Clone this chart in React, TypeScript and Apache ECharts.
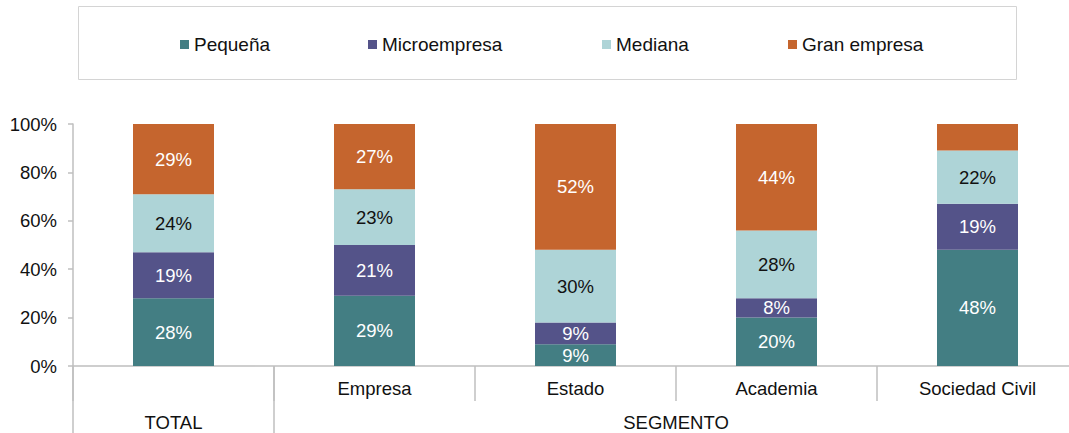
import React, { useEffect, useRef } from "react";
import * as echarts from "echarts";

const categories = ["TOTAL", "Empresa", "Estado", "Academia", "Sociedad Civil"];
const groupNames = ["TOTAL", "SEGMENTO"];
const groupSizes = [1, 4];

const seriesNames = ["Pequeña", "Microempresa", "Mediana", "Gran empresa"];
const pequena = [28, 29, 9, 20, 48];
const microempresa = [19, 21, 9, 8, 19];
const mediana = [24, 23, 30, 28, 22];
const granEmpresa = [29, 27, 52, 44, 11];
// labels that are not printed in the original (small slice)
const hiddenLabels: number[][] = [[], [], [], [4]];

const yTicks = [0, 20, 40, 60, 80, 100];

const colors = ["#437E83", "#545389", "#AED4D7", "#C5652E"];
const labelColors = ["#ffffff", "#ffffff", "#111111", "#ffffff"];
const legendLefts = [180, 368, 602, 788];

const FONT = "'Liberation Sans', Arial, sans-serif";

export default function App() {
  const ref = useRef<HTMLDivElement>(null);

  useEffect(() => {
    if (!ref.current) return;
    const chart = echarts.init(ref.current, undefined, { renderer: "svg" });
    const values = [pequena, microempresa, mediana, granEmpresa];

    // group boundaries / centres along the category axis (in category units)
    const groupBounds: number[] = [0];
    const groupCenters: number[] = [];
    let acc = 0;
    groupSizes.forEach((s) => {
      groupCenters.push(acc + s / 2);
      acc += s;
      groupBounds.push(acc);
    });

    const series = seriesNames.map((name, i) => ({
      name,
      type: "bar",
      stack: "total",
      barWidth: 81,
      itemStyle: { color: colors[i] },
      label: {
        show: true,
        position: "inside",
        formatter: "{c}%",
        color: labelColors[i],
        fontFamily: FONT,
        fontSize: 18.5,
      },
      emphasis: { disabled: true },
      data: values[i].map((v, j) =>
        hiddenLabels[i].includes(j) ? { value: v, label: { show: false } } : v
      ),
    }));

    chart.setOption({
      animation: false,
      textStyle: { fontFamily: FONT },
      legend: seriesNames.map((name, i) => ({
        data: [name],
        left: legendLefts[i],
        top: 35,
        padding: 0,
        itemWidth: 9,
        itemHeight: 9,
        icon: "rect",
        selectedMode: false,
        textStyle: { fontFamily: FONT, fontSize: 19, color: "#111" },
      })),
      graphic: [
        {
          type: "rect",
          shape: { x: 78.5, y: 6.5, width: 938, height: 73 },
          style: { fill: "none", stroke: "#d4d4d4", lineWidth: 1 },
          silent: true,
        },
      ],
      grid: {
        left: 73,
        top: 124,
        width: 1005,
        height: 242,
        containLabel: false,
        outerBoundsMode: "none",
      },
      xAxis: [
        {
          type: "category",
          data: categories,
          position: "bottom",
          axisLine: { show: true, lineStyle: { color: "#bfbfbf", width: 1.5 } },
          axisTick: {
            show: true,
            interval: 0,
            length: 35,
            lineStyle: { color: "#bfbfbf", width: 1.5 },
          },
          axisLabel: {
            interval: 0,
            margin: 13,
            color: "#111",
            fontFamily: FONT,
            fontSize: 18.5,
            formatter: (v: string) => (groupNames.includes(v) ? "" : v),
          },
        },
        {
          type: "value",
          min: 0,
          max: categories.length,
          position: "bottom",
          axisLine: { show: false },
          splitLine: { show: false },
          axisTick: {
            show: true,
            customValues: groupBounds.slice(0, -1),
            length: 70,
            lineStyle: { color: "#bfbfbf", width: 1.5 },
          },
          axisLabel: {
            customValues: groupCenters,
            margin: 47,
            color: "#111",
            fontFamily: FONT,
            fontSize: 18.5,
            formatter: (v: number) => groupNames[groupCenters.indexOf(v)] ?? "",
          },
        },
      ],
      yAxis: {
        type: "value",
        min: 0,
        max: 100,
        interval: 20,
        axisLine: { show: true, lineStyle: { color: "#bfbfbf", width: 1.5 } },
        axisTick: { show: true, length: 5, lineStyle: { color: "#bfbfbf", width: 1.5 } },
        splitLine: { show: false },
        axisLabel: {
          margin: 16,
          color: "#111",
          fontFamily: FONT,
          fontSize: 18.5,
          formatter: (v: number) => (yTicks.includes(v) ? `${v}%` : ""),
        },
      },
      series,
    });

    return () => chart.dispose();
  }, []);

  return (
    <div
      ref={ref}
      style={{ position: "fixed", left: 0, top: 0, width: 1069, height: 433, background: "#fff" }}
    />
  );
}
